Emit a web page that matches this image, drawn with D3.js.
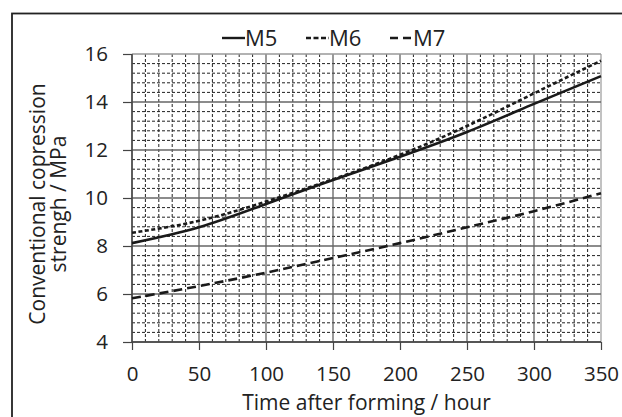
<!DOCTYPE html>
<html><head><meta charset="utf-8">
<script src="https://cdn.jsdelivr.net/npm/d3@7"></script>
<style>body{margin:0;background:#fff}svg{display:block}text{font-family:"Open Sans",sans-serif;fill:#222}</style>
</head><body>
<script>
const hours = [0, 50, 100, 150, 200, 250, 300, 350];
const m5 = [8.12, 8.78, 9.75, 10.75, 11.72, 12.75, 13.92, 15.08];
const m6 = [8.55, 9.05, 9.85, 10.78, 11.8, 13.0, 14.36, 15.72];
const m7 = [5.82, 6.33, 6.89, 7.5, 8.12, 8.78, 9.45, 10.2];
const seriesNames = ["M5", "M6", "M7"];
const xTicks = [0, 50, 100, 150, 200, 250, 300, 350];
const yTicks = [4, 6, 8, 10, 12, 14, 16];

const W = 622, H = 417;
const FONT = '"Open Sans",sans-serif';
const svg = d3.select("body").append("svg").attr("width", W).attr("height", H);
svg.append("rect").attr("x", 12).attr("y", 13.5).attr("width", W).attr("height", H)
  .attr("fill", "none").attr("stroke", "#222").attr("stroke-width", 1.8);

const x = d3.scaleLinear().domain([0, 350]).range([132, 601]);
const y = d3.scaleLinear().domain([4, 16]).range([342, 54]);

// minor grid
const g = svg.append("g");
d3.range(0, 351, 10).filter(v => v % 50 !== 0).forEach(v => {
  g.append("line").attr("x1", x(v)).attr("x2", x(v)).attr("y1", y(16)).attr("y2", y(4))
    .attr("stroke", "#222").attr("stroke-width", 1).attr("stroke-dasharray", "3,2");
});
d3.range(4, 16.01, 0.4).forEach(v => {
  const r = Math.round(v * 10) / 10;
  if (Math.abs(r / 2 - Math.round(r / 2)) < 1e-6) return;
  g.append("line").attr("x1", x(0)).attr("x2", x(350)).attr("y1", y(r)).attr("y2", y(r))
    .attr("stroke", "#222").attr("stroke-width", 1).attr("stroke-dasharray", "3,2");
});
// major grid
xTicks.forEach(v => {
  g.append("line").attr("x1", x(v)).attr("x2", x(v)).attr("y1", y(16)).attr("y2", y(4))
    .attr("stroke", v === 350 ? "#999" : "#555").attr("stroke-width", 1.2);
});
yTicks.forEach(v => {
  g.append("line").attr("x1", x(0)).attr("x2", x(350)).attr("y1", y(v)).attr("y2", y(v))
    .attr("stroke", v === 16 ? "#999" : "#666").attr("stroke-width", 1.6);
});

// axes
const yAxis = d3.axisLeft(y).tickValues(yTicks).tickSize(9).tickPadding(15);
const xAxis = d3.axisBottom(x).tickValues(xTicks).tickSize(8).tickPadding(16);
const ya = svg.append("g").attr("transform", `translate(${x(0)},0)`).call(yAxis);
const xa = svg.append("g").attr("transform", `translate(0,${y(4)})`).call(xAxis);
[ya, xa].forEach(a => {
  a.select(".domain").attr("stroke", "#444").attr("stroke-width", 1.4);
  a.selectAll(".tick line").attr("stroke", "#444").attr("stroke-width", 1.2);
  a.selectAll("text").attr("font-size", 20.5).attr("fill", "#222").style("font-family", FONT);
});
ya.select(".domain").attr("d", `M-0,${y(16)}V${y(4)}`);
xa.select(".domain").attr("d", `M${x(0)},0H${x(350)}`);

// lines
const data = [m5, m6, m7];
const dashes = [null, "4,2.5", "9,5"];
const line = d3.line().x((d, i) => x(hours[i])).y(d => y(d)).curve(d3.curveNatural);
data.forEach((s, k) => {
  svg.append("path").attr("d", line(s)).attr("fill", "none").attr("stroke", "#1a1a1a")
    .attr("stroke-width", 2.6).attr("stroke-dasharray", dashes[k]);
});

// legend
const legX = [222, 306, 390];
seriesNames.forEach((n, k) => {
  svg.append("line").attr("x1", legX[k]).attr("x2", legX[k] + 23).attr("y1", 38).attr("y2", 38)
    .attr("stroke", "#1a1a1a").attr("stroke-width", 2.4).attr("stroke-dasharray", k === 0 ? null : (k === 1 ? "5,2.5" : "8,5"));
  svg.append("text").attr("x", legX[k] + 23).attr("y", 46).attr("font-size", 22).text(n);
});

// axis titles
svg.append("text").attr("x", x(175)).attr("y", 410).attr("text-anchor", "middle").attr("font-size", 21)
  .text("Time after forming / hour");
const yt = svg.append("text").attr("transform", "translate(0,204) rotate(-90)").attr("text-anchor", "middle").attr("font-size", 21);
yt.append("tspan").attr("x", 0).attr("y", 45).text("Conventional copression");
yt.append("tspan").attr("x", 0).attr("y", 66).text("strengh / MPa");
</script>
</body></html>
